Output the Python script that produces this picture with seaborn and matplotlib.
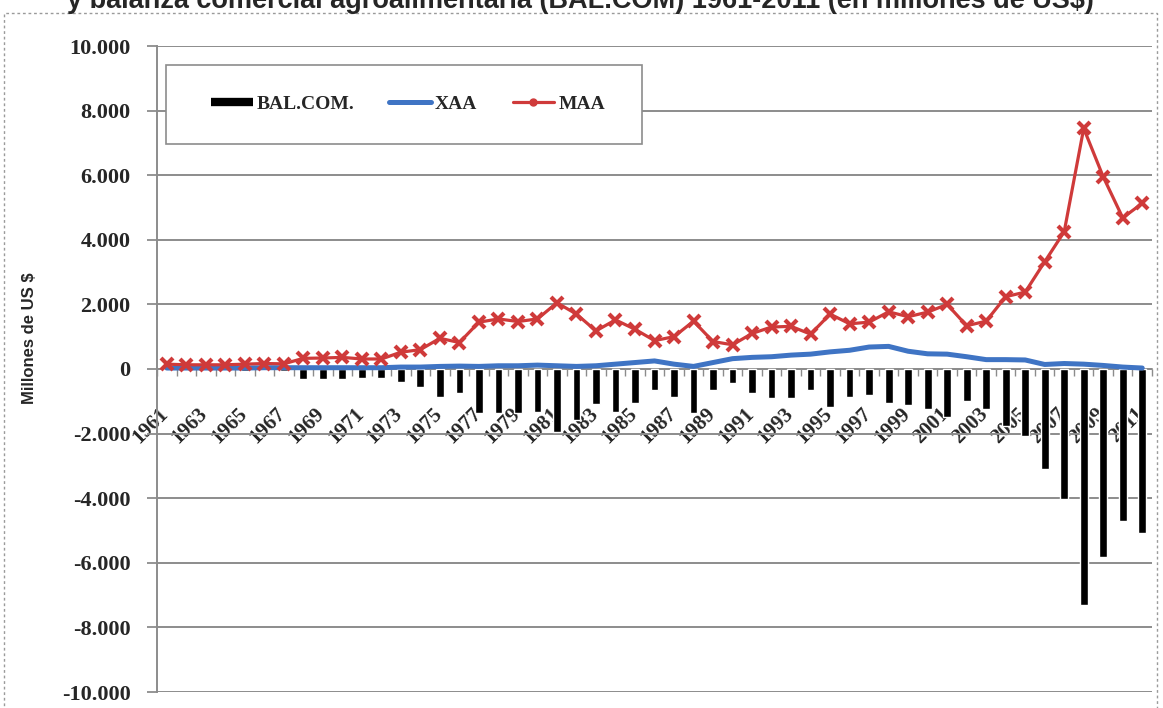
import numpy as np
import pandas as pd
import matplotlib
matplotlib.use("Agg")
import matplotlib.pyplot as plt
import matplotlib.transforms as mtransforms
from matplotlib.lines import Line2D
from matplotlib.patches import Rectangle
import seaborn as sns

# ---------------- data ----------------
years = list(range(1961, 2012))
maa = [150, 130, 130, 130, 150, 170, 160, 330, 340, 360, 310, 310, 520, 600, 950,
       820, 1450, 1550, 1470, 1550, 2050, 1700, 1180, 1520, 1230, 880, 1000, 1480,
       850, 750, 1100, 1300, 1320, 1080, 1700, 1400, 1450, 1770, 1620, 1760, 2000,
       1340, 1480, 2240, 2380, 3320, 4250, 7450, 5950, 4680, 5130]
xaa = [30, 30, 30, 30, 30, 40, 40, 40, 40, 40, 40, 40, 60, 60, 80,
       90, 80, 100, 100, 120, 100, 80, 100, 150, 200, 250, 150, 80,
       200, 320, 360, 380, 430, 460, 530, 580, 680, 700, 550, 470, 460,
       380, 290, 290, 280, 140, 170, 150, 110, 60, 30]
bal = [-20, -20, -30, -30, -60, -40, -50, -300, -300, -300, -280, -270, -390, -550, -860,
       -750, -1370, -1370, -1370, -1330, -1940, -1580, -1080, -1340, -1060, -650, -860, -1370,
       -650, -420, -750, -910, -910, -650, -1170, -860, -800, -1060, -1100, -1250, -1480,
       -980, -1230, -1760, -2070, -3100, -4020, -7300, -5820, -4700, -5080]
series_names = ["BAL.COM.", "XAA", "MAA"]
y_ticks = [-10000, -8000, -6000, -4000, -2000, 0, 2000, 4000, 6000, 8000, 10000]
title = "y balanza comercial agroalimentaria (BAL.COM) 1961-2011 (en millones de US$)"
y_label = "Millones de US $"

df = pd.DataFrame({"year": [str(y) for y in years], "pos": np.arange(len(years)),
                   "bal": bal, "xaa": xaa, "maa": maa})

# ---------------- style ----------------
sns.set_theme(style="white")
plt.rcParams["font.family"] = ["Liberation Serif", "DejaVu Serif"]

BLUE = "#3f74c4"
RED = "#cf3a3a"
GRID = "#8c8c8c"

W, H = 1163, 708
fig = plt.figure(figsize=(W / 100, H / 100), dpi=100)
fig.patch.set_facecolor("white")
ax = fig.add_axes([157 / W, 16 / H, 995 / W, 646 / H])
ax.set_facecolor("white")

# bars + lines
sns.barplot(data=df, x="year", y="bal", color="black", width=0.4,
            saturation=1, ax=ax, zorder=3)
sns.lineplot(data=df, x="pos", y="xaa", color=BLUE, linewidth=3.6, ax=ax,
             zorder=4, solid_capstyle="round")
sns.lineplot(data=df, x="pos", y="maa", color=RED, linewidth=2.3, marker="x",
             markersize=9, markeredgewidth=3, markeredgecolor=RED, ax=ax, zorder=5)

ax.set_xlim(-0.5, len(years) - 0.5)
ax.set_ylim(-10000, 10000)
ax.set_xlabel("")
ax.set_ylabel("")

# grid
ax.set_yticks(y_ticks)
ax.set_yticklabels([f"{v:,}".replace(",", ".") for v in y_ticks],
                   fontsize=16, fontweight="bold", family="Liberation Serif")
ax.yaxis.grid(True, color=GRID, linewidth=1.4, zorder=0)
ax.set_axisbelow(True)
ax.tick_params(axis="y", length=7, width=1.3, color=GRID, pad=12, left=True)

# spines
for s in ["top", "right"]:
    ax.spines[s].set_visible(False)
ax.spines["left"].set_color(GRID)
ax.spines["left"].set_linewidth(1.4)
ax.spines["bottom"].set_position(("data", 0))
ax.spines["bottom"].set_color(GRID)
ax.spines["bottom"].set_linewidth(1.2)

# x ticks: labels on odd years, tick marks between categories
pos = np.arange(len(years))
ax.set_xticks(pos[::2])
ax.set_xticklabels([str(y) for y in years[::2]], rotation=45, ha="right",
                   va="top", rotation_mode="anchor", fontsize=15,
                   fontweight="bold", family="Liberation Serif")
ax.set_xticks(np.arange(-0.5, len(years), 1.0), minor=True)
ax.tick_params(axis="x", which="major", length=0, pad=25, bottom=True)
ax.tick_params(axis="x", which="minor", length=5, width=1.0, color=GRID,
               direction="out", bottom=True)
shift = mtransforms.ScaledTranslation(-8 / 100, 0, fig.dpi_scale_trans)
for lab in ax.get_xticklabels():
    lab.set_transform(lab.get_transform() + shift)

# legend: frame drawn as a box, entries placed inside
box_l, box_t, box_r, box_b = 166, 65, 642, 144
ax.add_patch(Rectangle(((box_l - 157) / 995, 1 - (box_b - 46) / 646),
                       (box_r - box_l) / 995, (box_b - box_t) / 646,
                       transform=ax.transAxes, facecolor="white",
                       edgecolor=GRID, linewidth=1.2, zorder=9))
handles = [
    Line2D([], [], color="black", lw=6, solid_capstyle="butt"),
    Line2D([], [], color=BLUE, lw=3.6),
    Line2D([], [], color=RED, lw=2.3, marker="o", markersize=5),
]
leg = ax.legend(handles, series_names, loc="center left",
                bbox_to_anchor=((211 - 157) / 995, 1 - (104.5 - 46) / 646), ncol=3,
                frameon=False, borderaxespad=0, borderpad=0,
                handlelength=2.15, handletextpad=0.2, columnspacing=1.8,
                prop={"family": "Liberation Serif", "weight": "bold", "size": 14})
leg.set_zorder(10)

# y label
fig.text(30 / W, 1 - 338 / H, y_label, rotation=90, ha="center", va="center",
         fontsize=12, fontweight="bold", family="Liberation Sans")

# title (clipped at the top edge, as in the source)
fig.text(580 / W, 1 - 8 / H, title, ha="center", va="baseline",
         fontsize=19.5, fontweight="bold", family="Liberation Sans")

# dotted outer frame
fig.add_artist(Rectangle((4 / W, -0.02), (1157 - 4) / W, 1 - 13 / H + 0.02,
                         transform=fig.transFigure, fill=False,
                         edgecolor="#9a9a9a", linewidth=1.0, linestyle=(0, (2, 2))))

fig.savefig("out.png", dpi=100)
